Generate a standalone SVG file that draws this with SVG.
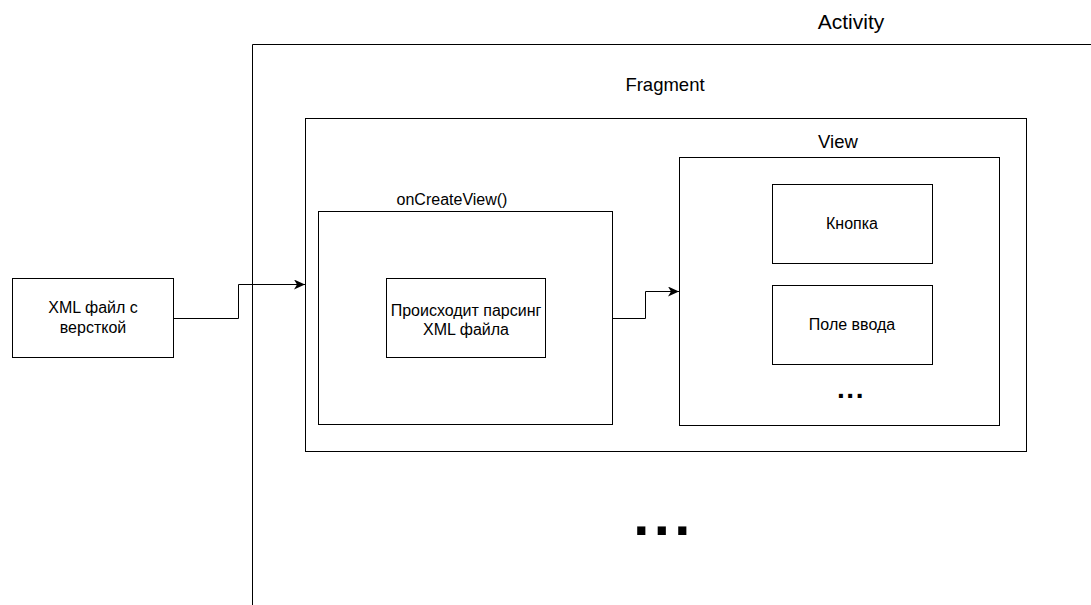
<svg xmlns="http://www.w3.org/2000/svg" width="1091" height="605" viewBox="0 0 1091 605">
  <style>
    .box { fill: #ffffff; stroke: #000000; stroke-width: 1; }
    .frame { fill: none; stroke: #000000; stroke-width: 1; }
    .lbl { font-family: "Liberation Sans", Arial, Helvetica, sans-serif; font-size: 16px; fill: #000000; text-anchor: middle; }
    .edge { fill: none; stroke: #000000; stroke-width: 1; }
  </style>
  <defs>
    <marker id="arrow" viewBox="0 0 11 10" refX="11" refY="5" markerWidth="11" markerHeight="10" markerUnits="userSpaceOnUse" orient="auto">
      <path d="M0,0 L11,5 L0,10 L3,5 Z" fill="#000000"/>
    </marker>
  </defs>
  <rect width="1091" height="605" fill="#ffffff"/>

  <!-- Activity container (open to the right and bottom) -->
  <g id="activity">
    <path class="frame" d="M252.5,605 L252.5,44.5 L1091,44.5"/>
    <text class="lbl" x="851" y="29" style="font-size:21px">Activity</text>
  </g>

  <!-- Fragment container -->
  <g id="fragment">
    <rect class="box" x="305.5" y="118.5" width="721" height="333"/>
    <text class="lbl" x="665" y="91" style="font-size:18.5px">Fragment</text>
  </g>

  <!-- onCreateView() step -->
  <g id="oncreateview">
    <rect class="box" x="318.5" y="211.5" width="294" height="213"/>
    <text class="lbl" x="452" y="205">onCreateView()</text>
  </g>

  <g id="parsing">
    <rect class="box" x="386.5" y="278.5" width="159" height="79"/>
    <text class="lbl" x="466" y="315.5">Происходит парсинг</text>
    <text class="lbl" x="466" y="335">XML файла</text>
  </g>

  <!-- Resulting view hierarchy -->
  <g id="view">
    <rect class="box" x="679.5" y="157.5" width="320" height="268"/>
    <text class="lbl" x="838" y="148" style="font-size:18.5px">View</text>
  </g>

  <g id="button">
    <rect class="box" x="772.5" y="184.5" width="160" height="79"/>
    <text class="lbl" x="852" y="229">Кнопка</text>
  </g>

  <g id="input">
    <rect class="box" x="772.5" y="285.5" width="160" height="79"/>
    <text class="lbl" x="852" y="330">Поле ввода</text>
  </g>

  <g id="view-more">
    <text class="lbl" x="851" y="398" style="font-size:28px;font-weight:bold;letter-spacing:1.5px">...</text>
  </g>

  <g id="activity-more">
    <text class="lbl" x="664" y="535" style="font-size:58px;font-weight:bold;letter-spacing:4.4px">...</text>
  </g>

  <!-- Layout source file -->
  <g id="xml-file">
    <rect class="box" x="12.5" y="278.5" width="161" height="79"/>
    <text class="lbl" x="93" y="313">XML файл с</text>
    <text class="lbl" x="93" y="332.5">версткой</text>
  </g>

  <!-- Connectors -->
  <g id="edges">
    <path class="edge" d="M173.5,318.5 L238.5,318.5 L238.5,284.5 L305,284.5" marker-end="url(#arrow)"/>
    <path class="edge" d="M612.5,318.5 L645.5,318.5 L645.5,291.5 L679,291.5" marker-end="url(#arrow)"/>
  </g>
</svg>
